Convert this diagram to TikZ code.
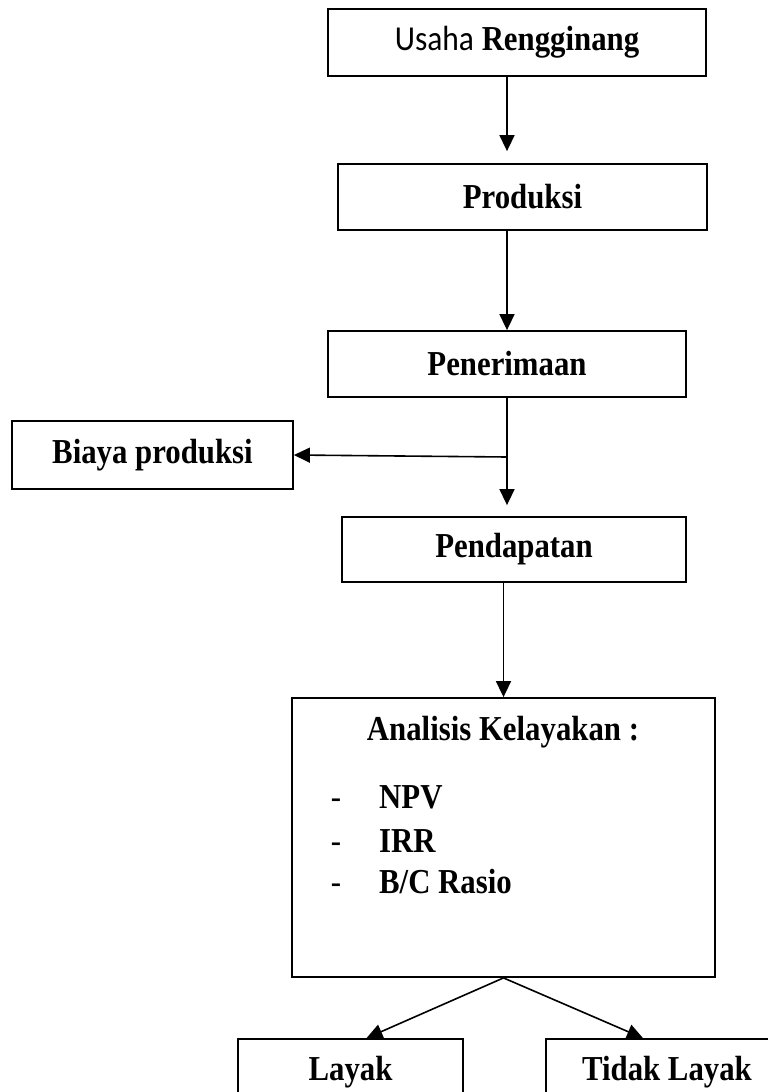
\documentclass[tikz,border=0pt]{standalone}
\usepackage{fontspec}
\setmainfont{Liberation Serif}[FakeStretch=0.88]
\newfontfamily\calibrifont{Carlito}[FakeStretch=0.9]
\usetikzlibrary{arrows.meta,positioning}

\begin{document}
\begin{tikzpicture}[x=1pt,y=-1pt,
    box/.style={draw, rectangle, line width=1.8pt, inner sep=0pt,
      font=\bfseries\fontsize{35}{42}\selectfont},
    isi/.style={inner sep=0pt, font=\bfseries\fontsize{35}{42}\selectfont},
    arr/.style={line width=1.6pt, -{Triangle[length=16pt,width=15pt]}}]

    \clip (0,0) rectangle (768,1092);

    % kotak alur
    \node[box, minimum width=378pt, minimum height=67pt] (usaha) at (517,42.5)
      {{\calibrifont\mdseries Usaha} Rengginang};
    \node[box, minimum width=369pt, minimum height=66pt] (produksi) at (522.5,197) {Produksi};
    \node[box, minimum width=358pt, minimum height=66pt] (penerimaan) at (507,364) {Penerimaan};
    \node[box, minimum width=281pt, minimum height=68pt] (biaya) at (152.5,455) {Biaya produksi};
    \node[box, minimum width=344pt, minimum height=65pt] (pendapatan) at (514,549.5) {Pendapatan};
    \node[box, minimum width=423pt, minimum height=279pt] (analisis) at (503.5,837.5) {};
    \node[box, minimum width=225pt, minimum height=66pt] (layak) at (350.5,1072) {Layak};
    \node[box, minimum width=242pt, minimum height=66pt] (tidak) at (667,1072) {Tidak Layak};

    % isi kotak analisis
    \node[isi, anchor=base] (judul) at (503,740) {Analisis Kelayakan :};
    \node[isi, anchor=base] (d1) at (336,808) {\mdseries -};
    \node[isi, anchor=base west] (npv) at (379,808) {NPV};
    \node[isi, anchor=base] (d2) at (336,852) {\mdseries -};
    \node[isi, anchor=base west] (irr) at (379,852) {IRR};
    \node[isi, anchor=base] (d3) at (336,893) {\mdseries -};
    \node[isi, anchor=base west] (bc) at (379,893) {B/C Rasio};

    \coordinate (sumbu) at (507,0);
    \coordinate (cabang) at (507,457);

    \draw[arr, shorten >=12pt] (usaha.south -| sumbu) -- (produksi.north -| sumbu);
    \draw[arr] (produksi.south -| sumbu) -- (penerimaan.north -| sumbu);
    \draw[arr, shorten >=11pt] (penerimaan.south -| sumbu) -- (pendapatan.north -| sumbu);
    \draw[arr] (cabang) -- (biaya.east);
    \draw[arr] (pendapatan.south -| analisis.north) -- (analisis.north);
    \draw[arr] (analisis.south) -- ([xshift=16pt]layak.north);
    \draw[arr] (analisis.south) -- ([xshift=-24pt]tidak.north);
\end{tikzpicture}
\end{document}
